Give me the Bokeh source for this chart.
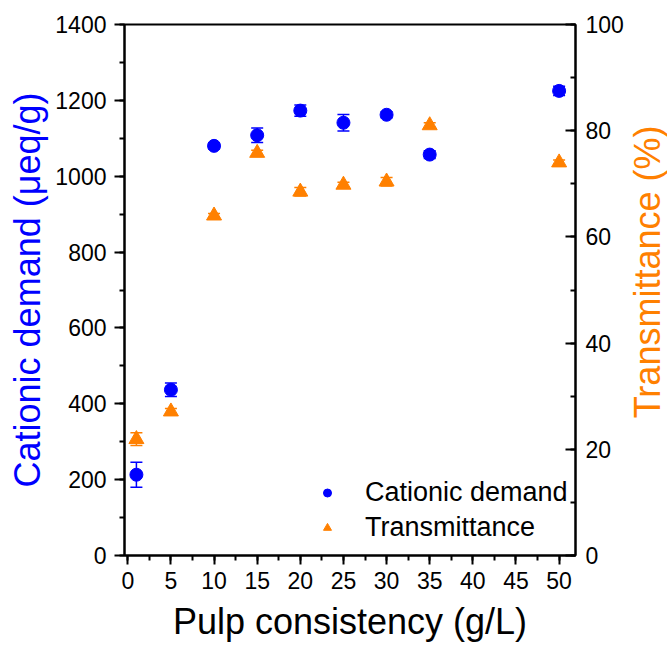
import math
from bokeh.plotting import figure
from bokeh.layouts import row
from bokeh.models import (Range1d, LinearAxis, SingleIntervalTicker, ColumnDataSource,
                          Whisker, TeeHead, Legend, LegendItem)
from bokeh.core.properties import value
from bokeh.embed import file_html
from bokeh.resources import INLINE

# ---- data ----
consistency = [1, 5, 10, 15, 20, 25, 30, 35, 50]
cationic = [213, 437, 1080, 1108, 1173, 1141, 1162, 1057, 1225]
cationic_err = [33, 18, 8, 19, 15, 22, 8, 10, 12]
transmittance = [21.9, 27.1, 64.0, 75.8, 68.5, 69.8, 70.4, 81.0, 74.0]
transmittance_err = [1.2, 0.6, 0.4, 0.5, 0.8, 0.5, 0.8, 0.5, 0.5]

x_title = "Pulp consistency (g/L)"
left_title = "Cationic demand (μeq/g)"
right_title = "Transmittance (%)"

BLUE = "#0000FF"
ORANGE = "#FF8000"
FONT = "Liberation Sans"

src_c = ColumnDataSource(dict(
    x=consistency, y=cationic,
    lo=[v - e for v, e in zip(cationic, cationic_err)],
    hi=[v + e for v, e in zip(cationic, cationic_err)]))
src_t = ColumnDataSource(dict(
    x=consistency, y=transmittance,
    lo=[v - e for v, e in zip(transmittance, transmittance_err)],
    hi=[v + e for v, e in zip(transmittance, transmittance_err)]))

p = figure(width=626, height=646, output_backend="svg", toolbar_location=None,
           x_range=Range1d(-0.38, 51.9), y_range=Range1d(0, 1400),
           x_axis_location=None, y_axis_location=None,
           min_border_left=124, min_border_right=48,
           min_border_top=24, min_border_bottom=91)
p.extra_y_ranges = {"t": Range1d(0, 100)}
p.grid.visible = False
p.outline_line_color = "black"
p.outline_line_width = 2
p.background_fill_color = "white"
p.border_fill_color = "white"


def style_axis(ax):
    ax.axis_line_width = 2
    ax.axis_line_color = "black"
    ax.major_tick_line_width = 2
    ax.minor_tick_line_width = 2
    ax.major_label_text_font = FONT
    ax.major_label_text_font_size = "23px"
    ax.major_label_text_color = "black"
    ax.axis_label_text_font = FONT
    ax.axis_label_text_font_size = "36px"
    ax.axis_label_text_font_style = "normal"
    ax.axis_label_text_color = "black"


xaxis = LinearAxis(ticker=SingleIntervalTicker(interval=5, num_minor_ticks=2),
                   axis_label=x_title)
style_axis(xaxis)
xaxis.major_tick_out = 9
xaxis.major_tick_in = 0
xaxis.minor_tick_out = 5
xaxis.minor_tick_in = 0
xaxis.major_label_standoff = 7
xaxis.axis_label_standoff = 9
p.add_layout(xaxis, "below")

yaxis = LinearAxis(ticker=SingleIntervalTicker(interval=200, num_minor_ticks=2),
                   axis_label=left_title)
style_axis(yaxis)
yaxis.major_tick_out = 10
yaxis.major_tick_in = 0
yaxis.minor_tick_out = 5
yaxis.minor_tick_in = 0
yaxis.major_label_standoff = 8
yaxis.axis_label_standoff = 4
yaxis.axis_label_text_color = BLUE
p.add_layout(yaxis, "left")

raxis = LinearAxis(y_range_name="t",
                   ticker=SingleIntervalTicker(interval=20, num_minor_ticks=2))
style_axis(raxis)
raxis.major_tick_out = 0
raxis.major_tick_in = 10
raxis.minor_tick_out = 0
raxis.minor_tick_in = 5
raxis.major_label_standoff = 10
p.add_layout(raxis, "right")

wc = Whisker(source=src_c, base="x", lower="lo", upper="hi",
             line_color=BLUE, line_width=1.5,
             upper_head=TeeHead(size=12, line_color=BLUE, line_width=1.5),
             lower_head=TeeHead(size=12, line_color=BLUE, line_width=1.5))
p.add_layout(wc)
wt = Whisker(source=src_t, base="x", lower="lo", upper="hi", y_range_name="t",
             line_color=ORANGE, line_width=1.5,
             upper_head=TeeHead(size=12, line_color=ORANGE, line_width=1.5),
             lower_head=TeeHead(size=12, line_color=ORANGE, line_width=1.5))
p.add_layout(wt)

rc = p.scatter("x", "y", source=src_c, marker="circle", size=13,
               fill_color=BLUE, line_color=BLUE)
rt = p.scatter("x", "y", source=src_t, marker="triangle", size=15,
               fill_color=ORANGE, line_color=ORANGE, y_range_name="t")

legend = Legend(items=[LegendItem(label="Cationic demand", renderers=[rc]),
                       LegendItem(label="Transmittance", renderers=[rt])],
                location=(193, 10), glyph_width=20, glyph_height=35,
                label_height=35, label_standoff=28, spacing=0, padding=0,
                margin=0, border_line_color=None, background_fill_alpha=0,
                label_text_font=FONT, label_text_font_size="27px",
                label_text_color="black")
p.add_layout(legend)

# narrow side panel carrying the right-axis title (reads bottom to top)
p2 = figure(width=41, height=646, output_backend="svg", toolbar_location=None,
            x_range=Range1d(0, 41), y_range=Range1d(0, 646),
            x_axis_location=None, y_axis_location=None, min_border=0)
p2.grid.visible = False
p2.outline_line_color = None
p2.background_fill_color = "white"
p2.border_fill_color = "white"
p2.text(x=[20.5], y=[345], text=[right_title], angle=math.pi / 2,
        text_align="center", text_baseline="middle",
        text_font=value(FONT), text_font_size="36px", text_color=ORANGE)

layout = row(p, p2, spacing=0)
open("out.html", "w").write(file_html(layout, INLINE))
